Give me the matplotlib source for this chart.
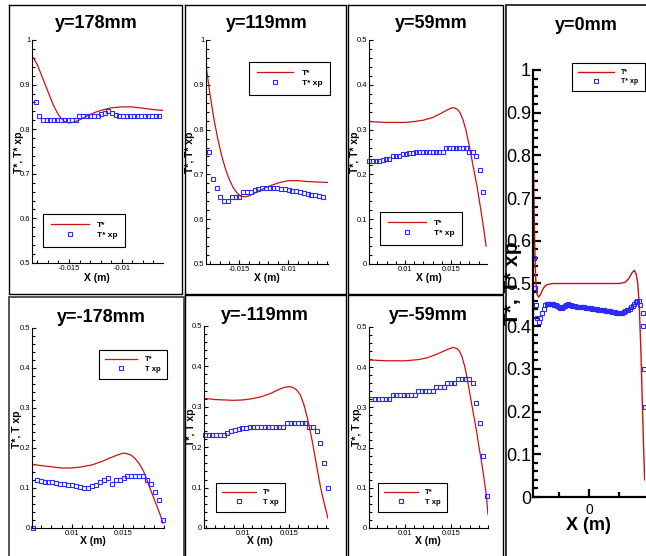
import matplotlib
matplotlib.use("Agg")
import matplotlib.pyplot as plt
from matplotlib.ticker import MultipleLocator, FuncFormatter
from matplotlib.lines import Line2D

plt.rcParams['font.family'] = ['Liberation Sans', 'DejaVu Sans']

# ---- y = 178 mm
x178_sim = [-0.0185, -0.0180, -0.0175, -0.0170, -0.0165, -0.0160, -0.0155, -0.0150, -0.0145, -0.0140, -0.0135,
            -0.0130, -0.0125, -0.0120, -0.0115, -0.0110, -0.0100, -0.0090, -0.0080, -0.0070, -0.0061]
t178_sim = [0.965, 0.945, 0.915, 0.885, 0.855, 0.832, 0.818, 0.814, 0.816, 0.821, 0.827,
            0.833, 0.838, 0.842, 0.845, 0.848, 0.850, 0.850, 0.847, 0.844, 0.842]
x178_exp = [-0.01815, -0.01781, -0.01746, -0.01712, -0.01677, -0.01643, -0.01609, -0.01574, -0.01540, -0.01505,
            -0.01471, -0.01437, -0.01402, -0.01368, -0.01333, -0.01299, -0.01265, -0.01230, -0.01196, -0.01161,
            -0.01127, -0.01093, -0.01058, -0.01024, -0.00989, -0.00955, -0.00921, -0.00886, -0.00852, -0.00817,
            -0.00783, -0.00749, -0.00714, -0.00680, -0.00645]
t178_exp = [0.86, 0.83, 0.82, 0.82, 0.82, 0.82, 0.82, 0.82, 0.82, 0.82,
            0.82, 0.82, 0.83, 0.83, 0.83, 0.83, 0.83, 0.83, 0.833, 0.837,
            0.84, 0.836, 0.831, 0.83, 0.83, 0.83, 0.83, 0.83, 0.83, 0.83,
            0.83, 0.83, 0.83, 0.83, 0.83]

# ---- y = 119 mm
x119_sim = [-0.0184, -0.0180, -0.0176, -0.0172, -0.0168, -0.0164, -0.0160, -0.0156, -0.0152, -0.0148, -0.0144, -0.0140,
            -0.0135, -0.0130, -0.0125, -0.0120, -0.0115, -0.0110, -0.0100, -0.0090, -0.0080, -0.0070, -0.0059]
t119_sim = [0.944, 0.880, 0.825, 0.780, 0.742, 0.712, 0.688, 0.670, 0.658, 0.651, 0.650, 0.652,
            0.657, 0.663, 0.668, 0.673, 0.677, 0.681, 0.686, 0.686, 0.684, 0.683, 0.682]
x119_exp = [-0.01809, -0.01770, -0.01731, -0.01693, -0.01654, -0.01615, -0.01576, -0.01537, -0.01499, -0.01460,
            -0.01421, -0.01382, -0.01343, -0.01305, -0.01266, -0.01227, -0.01188, -0.01149, -0.01111, -0.01072,
            -0.01033, -0.00994, -0.00955, -0.00917, -0.00878, -0.00839, -0.00800, -0.00761, -0.00723, -0.00684,
            -0.00645]
t119_exp = [0.75, 0.69, 0.67, 0.65, 0.64, 0.64, 0.65, 0.65, 0.65, 0.66,
            0.66, 0.66, 0.665, 0.668, 0.67, 0.67, 0.67, 0.67, 0.67, 0.668,
            0.668, 0.665, 0.663, 0.662, 0.66, 0.659, 0.657, 0.655, 0.653, 0.652,
            0.65]

# ---- y = 59 mm
x59_sim = [0.0061, 0.0070, 0.0080, 0.0090, 0.0100, 0.0110, 0.0120, 0.0130, 0.0138, 0.0145, 0.0150,
           0.0153, 0.0157, 0.0160, 0.0163, 0.0166, 0.0170, 0.0174, 0.0178, 0.0182, 0.0185, 0.0188]
t59_sim = [0.318, 0.317, 0.316, 0.316, 0.316, 0.318, 0.321, 0.327, 0.335, 0.343, 0.348,
           0.349, 0.345, 0.337, 0.322, 0.300, 0.262, 0.218, 0.175, 0.125, 0.085, 0.040]
x59_exp = [0.00614, 0.00650, 0.00686, 0.00723, 0.00759, 0.00795, 0.00831, 0.00867, 0.00904, 0.00940,
           0.00976, 0.01012, 0.01048, 0.01085, 0.01121, 0.01157, 0.01193, 0.01229, 0.01266, 0.01302,
           0.01338, 0.01374, 0.01410, 0.01447, 0.01483, 0.01519, 0.01555, 0.01591, 0.01628, 0.01664,
           0.01700, 0.01736, 0.01772, 0.01809, 0.01845]
t59_exp = [0.23, 0.23, 0.23, 0.23, 0.232, 0.235, 0.235, 0.24, 0.24, 0.242,
           0.245, 0.245, 0.247, 0.247, 0.25, 0.25, 0.25, 0.25, 0.25, 0.25,
           0.25, 0.25, 0.25, 0.26, 0.26, 0.26, 0.26, 0.26, 0.26, 0.26,
           0.25, 0.25, 0.24, 0.21, 0.16]

# ---- y = 0 mm
x0_sim = [-0.0185, -0.0182, -0.0179, -0.0176, -0.0172, -0.0166, -0.0160, -0.0150, -0.0140, -0.0120, -0.0100,
          0.0000, 0.0100, 0.0120, 0.0132, 0.0142, 0.0150, 0.0156, 0.0161, 0.0166, 0.0172, 0.0177, 0.0181, 0.0184]
t0_sim = [0.85, 0.70, 0.58, 0.51, 0.475, 0.468, 0.475, 0.490, 0.497, 0.500, 0.500,
          0.500, 0.500, 0.503, 0.512, 0.525, 0.531, 0.522, 0.500, 0.450, 0.330, 0.200, 0.100, 0.040]
x0_exp = [-0.01828, -0.01795, -0.01761, -0.01717, -0.01662, -0.01606, -0.01550, -0.01495,
          -0.0145, -0.0140, -0.0135, -0.0130, -0.0125, -0.0120, -0.0115, -0.0110, -0.0105, -0.0100,
          -0.0095, -0.0090, -0.0085, -0.0080, -0.0075, -0.0070, -0.0065, -0.0060, -0.0055, -0.0050,
          -0.0045, -0.0040, -0.0035, -0.0030, -0.0025, -0.0020, -0.0015, -0.0010, -0.0005, 0.0000,
          0.0005, 0.0010, 0.0015, 0.0020, 0.0025, 0.0030, 0.0035, 0.0040, 0.0045, 0.0050,
          0.0055, 0.0060, 0.0065, 0.0070, 0.0075, 0.0080, 0.0085, 0.0090, 0.0095, 0.0100,
          0.0105, 0.0110, 0.0115, 0.0120, 0.0125, 0.0130, 0.0135, 0.0140, 0.0145, 0.0150,
          0.0155, 0.0160, 0.0165, 0.0170, 0.0177, 0.0180, 0.0183, 0.0185]
t0_exp = [0.56, 0.49, 0.45, 0.42, 0.41, 0.42, 0.43, 0.44,
          0.450, 0.452, 0.452, 0.452, 0.451, 0.451, 0.450, 0.449, 0.447, 0.445,
          0.443, 0.442, 0.444, 0.447, 0.450, 0.451, 0.450, 0.449, 0.448, 0.447,
          0.447, 0.446, 0.446, 0.445, 0.445, 0.444, 0.444, 0.443, 0.443, 0.442,
          0.442, 0.441, 0.441, 0.440, 0.440, 0.439, 0.439, 0.438, 0.438, 0.437,
          0.436, 0.436, 0.435, 0.435, 0.434, 0.433, 0.433, 0.432, 0.432, 0.431,
          0.431, 0.432, 0.433, 0.435, 0.437, 0.439, 0.441, 0.444, 0.447, 0.451,
          0.456, 0.460, 0.458, 0.450, 0.43, 0.40, 0.30, 0.21]

# ---- y = -178 mm
xm178_sim = [0.0061, 0.0070, 0.0080, 0.0090, 0.0100, 0.0110, 0.0120, 0.0130, 0.0138, 0.0145, 0.0150,
             0.0154, 0.0158, 0.0162, 0.0166, 0.0170, 0.0174, 0.0178, 0.0182, 0.0186, 0.0189]
tm178_sim = [0.159, 0.156, 0.153, 0.150, 0.150, 0.153, 0.158, 0.167, 0.176, 0.183, 0.187,
             0.186, 0.182, 0.173, 0.160, 0.142, 0.115, 0.088, 0.062, 0.035, 0.012]
xm178_exp = [0.00617, 0.00656, 0.00694, 0.00733, 0.00771, 0.00810, 0.00849, 0.00887, 0.00926, 0.00964,
             0.01003, 0.01042, 0.01080, 0.01119, 0.01157, 0.01196, 0.01235, 0.01273, 0.01312, 0.01350,
             0.01389, 0.01428, 0.01466, 0.01505, 0.01543, 0.01582, 0.01621, 0.01659, 0.01698, 0.01736,
             0.01775, 0.01814, 0.01852, 0.01891]
tm178_exp = [0.0, 0.12, 0.118, 0.116, 0.115, 0.114, 0.113, 0.111, 0.11, 0.108,
             0.107, 0.105, 0.103, 0.10, 0.10, 0.104, 0.108, 0.115, 0.12, 0.124,
             0.11, 0.12, 0.12, 0.125, 0.13, 0.13, 0.13, 0.13, 0.13, 0.12,
             0.11, 0.09, 0.07, 0.02]

# ---- y = -119 mm
xm119_sim = [0.0058, 0.0070, 0.0080, 0.0090, 0.0100, 0.0110, 0.0120, 0.0130, 0.0138, 0.0145, 0.0150,
             0.0154, 0.0158, 0.0162, 0.0166, 0.0170, 0.0175, 0.0180, 0.0184, 0.0188, 0.0192]
tm119_sim = [0.321, 0.318, 0.317, 0.316, 0.317, 0.320, 0.325, 0.333, 0.342, 0.348, 0.350,
             0.348, 0.342, 0.330, 0.305, 0.270, 0.215, 0.150, 0.100, 0.060, 0.024]
xm119_exp = [0.00591, 0.00631, 0.00671, 0.00712, 0.00752, 0.00792, 0.00832, 0.00872, 0.00913, 0.00953,
             0.00993, 0.01033, 0.01073, 0.01114, 0.01154, 0.01194, 0.01234, 0.01274, 0.01315, 0.01355,
             0.01395, 0.01435, 0.01475, 0.01516, 0.01556, 0.01596, 0.01636, 0.01676, 0.01717, 0.01757,
             0.01797, 0.01837, 0.01877, 0.01918]
tm119_exp = [0.23, 0.23, 0.23, 0.23, 0.23, 0.23, 0.235, 0.24, 0.243, 0.245,
             0.247, 0.248, 0.25, 0.25, 0.25, 0.25, 0.25, 0.25, 0.25, 0.25,
             0.25, 0.25, 0.26, 0.26, 0.26, 0.26, 0.26, 0.26, 0.25, 0.25,
             0.24, 0.21, 0.16, 0.10]

# ---- y = -59 mm
xm59_sim = [0.0061, 0.0080, 0.0100, 0.0115, 0.0125, 0.0133, 0.0140, 0.0147, 0.0152, 0.0156,
            0.0159, 0.0162, 0.0165, 0.0168, 0.0172, 0.0176, 0.0180, 0.0184, 0.0188, 0.0190]
tm59_sim = [0.418, 0.416, 0.416, 0.419, 0.424, 0.431, 0.438, 0.445, 0.449, 0.447,
            0.440, 0.425, 0.400, 0.365, 0.312, 0.262, 0.205, 0.150, 0.085, 0.034]
xm59_exp = [0.00632, 0.00671, 0.00711, 0.00750, 0.00789, 0.00829, 0.00868, 0.00907, 0.00946, 0.00986,
            0.01025, 0.01064, 0.01104, 0.01143, 0.01182, 0.01222, 0.01261, 0.01300, 0.01339, 0.01379,
            0.01418, 0.01457, 0.01497, 0.01536, 0.01575, 0.01615, 0.01654, 0.01693, 0.01732, 0.01772,
            0.01811, 0.01850, 0.01890]
tm59_exp = [0.32, 0.32, 0.32, 0.32, 0.32, 0.32, 0.33, 0.33, 0.33, 0.33,
            0.33, 0.33, 0.33, 0.34, 0.34, 0.34, 0.34, 0.34, 0.35, 0.35,
            0.35, 0.36, 0.36, 0.36, 0.37, 0.37, 0.37, 0.37, 0.36, 0.31,
            0.26, 0.18, 0.08]

W, H = 646, 556
RED = '#cc1111'
BLUE = '#2b2bff'


def fx(x):
    return x / W


def fy(y):
    return 1 - y / H


def frame(fig, l, t, r, b, lw=1.0, color='black'):
    xs = [fx(l), fx(r), fx(r), fx(l), fx(l)]
    ys = [fy(t), fy(t), fy(b), fy(b), fy(t)]
    fig.add_artist(Line2D(xs, ys, transform=fig.transFigure, lw=lw, color=color))


def panel(fig, rect, xlim, ylim, xstep, xminor, big=False):
    l, t, r, b = rect
    ax = fig.add_axes([fx(l), fy(b), fx(r) - fx(l), fy(t) - fy(b)])
    ax.set_xlim(xlim)
    ax.set_ylim(ylim)
    ax.patch.set_alpha(0)
    ax.spines['top'].set_visible(False)
    ax.spines['right'].set_visible(False)
    lw = 1.6 if big else 0.8
    ax.spines['left'].set_linewidth(lw)
    ax.spines['bottom'].set_linewidth(lw)
    ax.xaxis.set_major_locator(MultipleLocator(xstep))
    ax.xaxis.set_minor_locator(MultipleLocator(xminor))
    ax.yaxis.set_major_locator(MultipleLocator(0.1))
    ax.yaxis.set_minor_locator(MultipleLocator(0.02))
    fmt = FuncFormatter(lambda v, p: '%g' % round(v, 6))
    ax.xaxis.set_major_formatter(fmt)
    ax.yaxis.set_major_formatter(fmt)
    ax.tick_params(which='both', direction='in', width=lw)
    ax.tick_params(which='major', length=6 if big else 3.2)
    ax.tick_params(which='minor', length=3.5 if big else 2)
    if big:
        ax.tick_params(axis='y', labelsize=13, pad=1.5)
        ax.tick_params(axis='x', labelsize=10, pad=4)
    else:
        ax.tick_params(axis='y', labelsize=5.5, pad=1.2)
        ax.tick_params(axis='x', labelsize=5.5, pad=1.5)
    return ax


def draw(ax, xs, ts, xe, te, exp_label, ms=3.2, lw=0.9):
    ax.plot(xs, ts, color=RED, lw=lw, label='T*')
    ax.plot(xe, te, ls='none', marker='s', ms=ms, mfc='none', mec=BLUE, mew=0.8,
            label=exp_label, clip_on=False)


def legend(fig, ax, left, top, fs, hl, bp=0.9):
    leg = ax.legend(loc='upper left', bbox_to_anchor=(fx(left), fy(top)), bbox_transform=fig.transFigure,
                    borderaxespad=0, prop={'weight': 'bold', 'size': fs}, handlelength=hl,
                    handletextpad=1.0, borderpad=bp, labelspacing=0.25, fancybox=False,
                    edgecolor='black', framealpha=1)
    leg.get_frame().set_linewidth(0.8)


def labels(fig, title, tpos, ylab, ypos, xpos, big=False):
    fig.text(fx(tpos[0]), fy(tpos[1]), title, ha='center', va='center', fontsize=13, weight='bold')
    fig.text(fx(ypos[0]), fy(ypos[1]), ylab, ha='center', va='center', rotation=90,
             fontsize=15 if big else 7.5, weight='bold')
    fig.text(fx(xpos[0]), fy(xpos[1]), 'X (m)', ha='center', va='center',
             fontsize=13 if big else 7.5, weight='bold')


fig = plt.figure(figsize=(W / 100, H / 100), dpi=100)

# panel frames
frame(fig, 9, 5, 182, 294)
frame(fig, 185, 5, 345.5, 294)
frame(fig, 348, 5, 503, 294)
frame(fig, 9, 296.5, 184, 560, color='#555555', lw=1.4)
frame(fig, 185, 295, 346, 560)
frame(fig, 348, 295, 503, 560)
frame(fig, 506, 5, 650, 560, color='#333333', lw=1.4)

ax = panel(fig, (32, 40, 163, 263), (-0.0185, -0.0061), (0.5, 1), 0.005, 0.001)
draw(ax, x178_sim, t178_sim, x178_exp, t178_exp, 'T* xp')
legend(fig, ax, 43, 214, 6, 4.6)
labels(fig, 'y=178mm', (96, 24), 'T*, T* xp', (19, 152), (97, 278))

ax = panel(fig, (206, 40, 328, 264), (-0.0184, -0.0059), (0.5, 1), 0.005, 0.001)
draw(ax, x119_sim, t119_sim, x119_exp, t119_exp, 'T* xp')
legend(fig, ax, 249, 62, 6, 4.4)
labels(fig, 'y=119mm', (267, 24), 'T*, T* xp', (190, 152), (267, 278))

ax = panel(fig, (369, 40, 487, 264), (0.0061, 0.0189), (0, 0.5), 0.005, 0.001)
draw(ax, x59_sim, t59_sim, x59_exp, t59_exp, 'T* xp')
legend(fig, ax, 380, 212, 6, 4.6)
labels(fig, 'y=59mm', (431, 24), 'T*, T* xp', (355, 152), (429, 278))

ax = panel(fig, (533, 70, 645, 497), (-0.0185, 0.0185), (0, 1), 0.02, 0.01, big=True)
draw(ax, x0_sim, t0_sim, x0_exp, t0_exp, 'T* xp', ms=3.0, lw=1.0)
legend(fig, ax, 572, 63, 5, 5.2)
labels(fig, 'y=0mm', (586, 25), 'T*, T* xp', (513, 283), (588, 525), big=True)

ax = panel(fig, (32, 328, 164, 528), (0.0061, 0.019), (0, 0.5), 0.005, 0.001)
draw(ax, xm178_sim, tm178_sim, xm178_exp, tm178_exp, 'T xp')
legend(fig, ax, 99, 350, 5.5, 4.2, bp=0.8)
labels(fig, 'y=-178mm', (101, 317), 'T*, T xp', (17, 429), (93, 541))

ax = panel(fig, (204, 326, 328, 528), (0.0058, 0.0192), (0, 0.5), 0.005, 0.001)
draw(ax, xm119_sim, tm119_sim, xm119_exp, tm119_exp, 'T xp')
legend(fig, ax, 216, 483, 5.5, 4.4, bp=0.8)
labels(fig, 'y=-119mm', (265, 315), 'T*, T xp', (191, 427), (260, 541))

ax = panel(fig, (369, 327, 488, 528), (0.0061, 0.019), (0, 0.5), 0.005, 0.001)
draw(ax, xm59_sim, tm59_sim, xm59_exp, tm59_exp, 'T xp')
legend(fig, ax, 378, 483, 5.5, 4.4, bp=0.8)
labels(fig, 'y=-59mm', (428, 315), 'T*, T xp', (357, 427), (428, 541))

fig.savefig('out.png', dpi=100)
